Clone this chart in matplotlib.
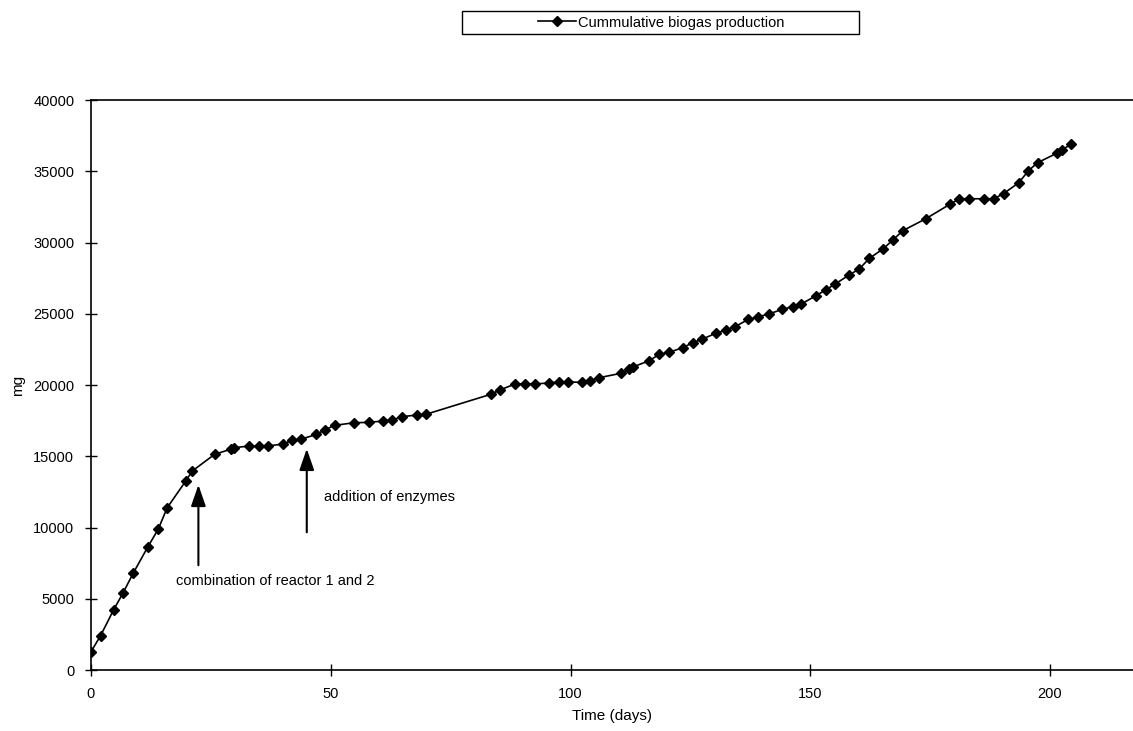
import matplotlib
matplotlib.use("Agg")
import matplotlib.pyplot as plt
from matplotlib.patches import Rectangle

plt.rcParams['font.family'] = ['Liberation Sans', 'DejaVu Sans']

# dias e producao acumulada (mg)
days = [0, 2, 4.7, 6.7, 8.8, 11.8, 14, 15.9, 19.8, 21.1, 25.8, 29.1, 29.8, 33, 35, 36.9,
        40, 42, 43.9, 47, 48.8, 50.8, 54.8, 57.9, 60.8, 62.8, 64.8, 67.9, 69.8,
        83.4, 85.4, 88.5, 90.6, 92.5, 95.6, 97.5, 99.5, 102.5, 104.1, 105.9,
        110.5, 112.2, 113.1, 116.4, 118.5, 120.6, 123.4, 125.5, 127.4, 130.3,
        132.4, 134.3, 137.1, 139.2, 141.3, 144.2, 146.3, 148.1, 151.1, 153.2,
        155.2, 158.1, 160.2, 162.3, 165.2, 167.3, 169.3, 174.1, 179.1, 181.1,
        183.2, 186.2, 188.3, 190.3, 193.5, 195.5, 197.4, 201.4, 202.4, 204.4]
biogas = [1280, 2410, 4210, 5420, 6790, 8610, 9870, 11390, 13280, 13960, 15140, 15490, 15600,
          15720, 15720, 15720, 15860, 16110, 16210, 16530, 16860, 17170, 17350, 17380,
          17470, 17540, 17780, 17890, 17940, 19350, 19670, 20080, 20080, 20080, 20140,
          20210, 20210, 20190, 20300, 20510, 20820, 21120, 21280, 21700, 22150, 22300,
          22620, 22970, 23210, 23630, 23860, 24090, 24610, 24790, 24980, 25310, 25500,
          25680, 26250, 26670, 27090, 27720, 28140, 28880, 29560, 30200, 30830, 31670,
          32680, 33070, 33070, 33070, 33070, 33430, 34200, 35040, 35600, 36260, 36490, 36890]

xticks = [0, 50, 100, 150, 200]
yticks = [0, 5000, 10000, 15000, 20000, 25000, 30000, 35000, 40000]

# setas: (x, ponta, cauda)
arrow1 = (22.4, 13190, 7160)
arrow2 = (45.0, 15720, 9470)

fig = plt.figure(figsize=(11.33, 7.31), dpi=100)
ax = fig.add_axes([0.0803, 0.0834, 0.9197, 0.7798])

ax.plot(days, biogas, color='black', linewidth=1.2, marker='D', markersize=5.6,
        label='Cummulative biogas production')

ax.set_xlim(0, 217.3)
ax.set_ylim(0, 40000)
ax.set_xticks(xticks)
ax.set_yticks(yticks)
ax.tick_params(direction='inout', length=8, width=1, labelsize=10.5, pad=8)
ax.spines['right'].set_visible(False)
for s in ['top', 'left', 'bottom']:
    ax.spines[s].set_linewidth(1.2)

ax.set_xlabel('Time (days)', fontsize=11, labelpad=6)
ax.set_ylabel('mg', fontsize=11, labelpad=6)

for a in [arrow1, arrow2]:
    ax.annotate('', xy=(a[0], a[1]), xytext=(a[0], a[2]),
                arrowprops=dict(arrowstyle='-|>,head_width=0.45,head_length=1.3',
                                color='black', linewidth=1.5))

ax.text(17.7, 6270, 'combination of reactor 1 and 2', fontsize=10.5, va='center', ha='left')
ax.text(48.6, 12160, 'addition of enzymes', fontsize=10.5, va='center', ha='left')

# caixa da legenda
fig.patches.append(Rectangle((462 / 1133, 1 - 34 / 731), 397 / 1133, 23 / 731,
                             transform=fig.transFigure, fill=False,
                             edgecolor='black', linewidth=1))
fig.legend(loc='center', bbox_to_anchor=(661 / 1133, 1 - 22.5 / 731), frameon=False,
           fontsize=10.5, handlelength=2.6, handletextpad=0.15, markerscale=0.85)

plt.savefig('out.png', dpi=100)
